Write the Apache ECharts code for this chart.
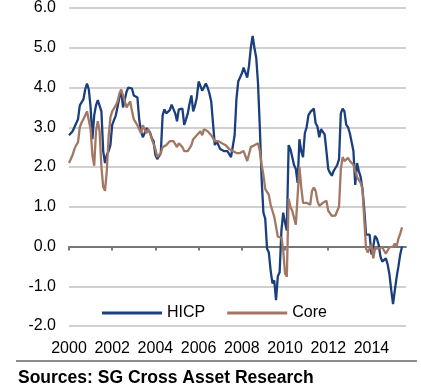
<!DOCTYPE html>
<html><head><meta charset="utf-8">
<script src="https://cdn.jsdelivr.net/npm/echarts@6/dist/echarts.min.js"></script>
<style>html,body{margin:0;padding:0;background:#fff}#c{width:421px;height:389px}</style>
</head><body><div id="c"></div>
<script>
// Monthly YoY inflation (%), Jan 2000 .. Jun 2015
const startYear = 2000;
const hicp = [
  2.8, 2.85, 2.9, 3.0, 3.05, 3.2, 3.55, 3.6, 3.7, 3.95, 4.1, 3.95,
  3.5, 2.7, 3.3, 3.55, 3.68, 3.68, 3.4, 2.4, 2.1, 2.3, 2.4, 2.55,
  3.06, 3.1, 3.3, 3.52, 3.75, 3.92, 3.5, 3.7, 3.9, 4.0, 4.0, 3.97,
  3.8, 3.85, 3.75, 3.2, 2.9, 2.75, 2.85, 2.98, 2.97, 2.87, 2.72, 2.65,
  2.3, 2.2, 2.2, 2.35, 3.3, 3.45, 3.35, 3.31, 3.43, 3.57, 3.58, 3.35,
  3.15, 3.45, 3.45, 3.47, 3.06, 3.2, 3.35, 3.6, 3.8, 3.4, 3.55, 3.75,
  4.15, 4.15, 3.92, 3.9, 4.1, 4.0, 3.85, 3.65, 3.1, 2.55, 2.65, 2.65,
  2.45, 2.5, 2.4, 2.45, 2.4, 2.35, 2.25, 2.2, 2.8, 3.7, 4.15, 4.25,
  4.35, 4.5, 4.5, 4.25, 4.55, 5.0, 5.3, 5.0, 4.75, 4.1, 3.0, 1.7,
  0.85, 0.7, -0.05, -0.15, -0.6, -0.93, -0.85, -1.35, -0.75, -0.65, 0.4, 0.85,
  0.6, 0.4, 2.55, 2.45, 2.25, 2.05, 1.95, 1.6, 2.7, 2.4, 2.25, 2.85,
  3.0, 3.3, 3.38, 3.38, 3.47, 3.1, 3.02, 2.75, 2.95, 2.9, 2.82, 2.4,
  1.95, 1.85, 1.78, 1.9, 1.94, 2.05, 2.2, 3.35, 3.47, 3.4, 3.06, 3.0,
  2.85, 2.8, 2.4, 1.55, 2.1, 1.9, 1.75, 1.45, 0.95, 0.3, 0.3, 0.3,
  -0.2, 0.0, 0.27, 0.2, 0.05, -0.25, -0.38, -0.35, -0.3, -0.45, -0.7, -1.1,
  -1.45, -1.1, -0.77, -0.5, -0.2, 0.0
];
const core = [
  2.1, 2.2, 2.3, 2.45, 2.55, 2.62, 3.0, 3.12, 3.2, 3.3, 3.4, 3.4,
  2.95, 2.3, 2.03, 2.9, 3.15, 2.9, 2.0, 1.5, 1.4, 1.9, 2.75, 3.25,
  3.4, 3.45, 3.55, 3.65, 3.85, 3.95, 3.9, 3.65, 3.5, 3.55, 3.65, 3.4,
  3.2, 3.15, 3.05, 3.0, 2.85, 3.05, 2.95, 2.85, 2.95, 2.85, 2.7, 2.65,
  2.45, 2.25, 2.25, 2.35, 2.5, 2.5, 2.55, 2.6, 2.65, 2.6, 2.65, 2.6,
  2.5, 2.6, 2.65, 2.5, 2.4, 2.45, 2.4, 2.45, 2.55, 2.7, 2.75, 2.8,
  2.85, 2.9, 2.8, 2.95, 2.95, 2.9, 2.9, 2.8, 2.75, 2.65, 2.65, 2.65,
  2.65, 2.6, 2.6, 2.55, 2.5, 2.45, 2.4, 2.4, 2.35, 2.35, 2.35, 2.35,
  2.35, 2.4, 2.45, 2.15, 2.2, 2.5, 2.5, 2.55, 2.6, 2.6, 2.4, 2.05,
  1.8, 1.45, 1.5, 1.3, 1.05, 0.9, 0.75, 0.5, 0.25, 0.2, 0.22, -0.1,
  -0.68, -0.76, 1.2, 1.0, 0.9, 0.9, 0.55, 0.6, 2.0, 1.5, 1.1, 1.05,
  1.1, 1.15, 1.05, 1.4, 1.48, 1.4, 1.15, 1.02, 0.98, 1.1, 1.05, 1.15,
  0.9, 0.85, 0.77, 0.73, 0.78, 0.9, 1.0, 1.95, 2.25, 2.15, 2.2, 2.23,
  2.15, 2.15, 2.05, 2.0, 1.75, 1.8, 1.6, 1.45, 0.7, -0.05, -0.15, -0.05,
  0.05, -0.3, -0.05, -0.1, -0.05, -0.1, -0.02, -0.1, -0.18, -0.1, -0.02, 0.02,
  0.0, 0.07, 0.0, 0.2, 0.32, 0.48
];
const xTickYears = [2000, 2002, 2004, 2006, 2008, 2010, 2012, 2014];
const seriesNames = ['HICP', 'Core'];
const sourceText = 'Sources: SG Cross Asset Research';

const FONT = '"Liberation Sans", Arial, sans-serif';
const toXY = arr => arr.map((v, i) => [startYear + i / 12, v]);

const chart = echarts.init(document.getElementById('c'), null, {renderer: 'canvas'});
chart.setOption({
  animation: false,
  backgroundColor: '#fff',
  textStyle: {fontFamily: FONT},
  grid: {left: 69, right: 15, top: 5, bottom: 63, containLabel: false},
  title: {
    text: sourceText, left: 18, top: 369, padding: 0,
    textStyle: {fontSize: 17.5, fontWeight: 'bold', color: '#000', fontFamily: FONT}
  },
  legend: {
    data: seriesNames, left: 102, top: 305, padding: 0,
    icon: 'rect', itemWidth: 60, itemHeight: 3, itemGap: 22,
    textStyle: {fontSize: 16, color: '#000', fontFamily: FONT}
  },
  xAxis: [
    {
      type: 'value', min: 2000, max: 2015.6, position: 'bottom',
      axisLine: {show: false, onZero: false}, axisTick: {show: false},
      splitLine: {show: false},
      axisLabel: {customValues: xTickYears, fontSize: 16, color: '#000', margin: 15, fontFamily: FONT,
        formatter: v => String(v)}
    },
    {
      type: 'value', min: 2000, max: 2015.6, position: 'bottom',
      axisLine: {show: true, onZero: true, lineStyle: {color: '#777', width: 2}},
      axisTick: {show: true, customValues: xTickYears, length: 4, lineStyle: {color: '#777', width: 2}},
      axisLabel: {show: false}, splitLine: {show: false}
    }
  ],
  yAxis: {
    type: 'value', min: -2, max: 6, interval: 1,
    axisLine: {show: false}, axisTick: {show: false},
    axisLabel: {fontSize: 16, color: '#000', margin: 13, fontFamily: FONT, formatter: v => v.toFixed(1)},
    splitLine: {lineStyle: {color: '#d0d0d0', width: 2}}
  },
  graphic: [{
    type: 'line', shape: {x1: 16, y1: 361, x2: 417, y2: 361},
    style: {stroke: '#666', lineWidth: 1.5}
  }],
  series: [
    {name: seriesNames[0], type: 'line', xAxisIndex: 0, data: toXY(hicp), symbol: 'none',
      lineStyle: {color: '#1B3F7E', width: 2.3}, itemStyle: {color: '#1B3F7E'}},
    {name: seriesNames[1], type: 'line', xAxisIndex: 0, data: toXY(core), symbol: 'none',
      lineStyle: {color: '#A27764', width: 2.3}, itemStyle: {color: '#A27764'}}
  ]
});
</script></body></html>
